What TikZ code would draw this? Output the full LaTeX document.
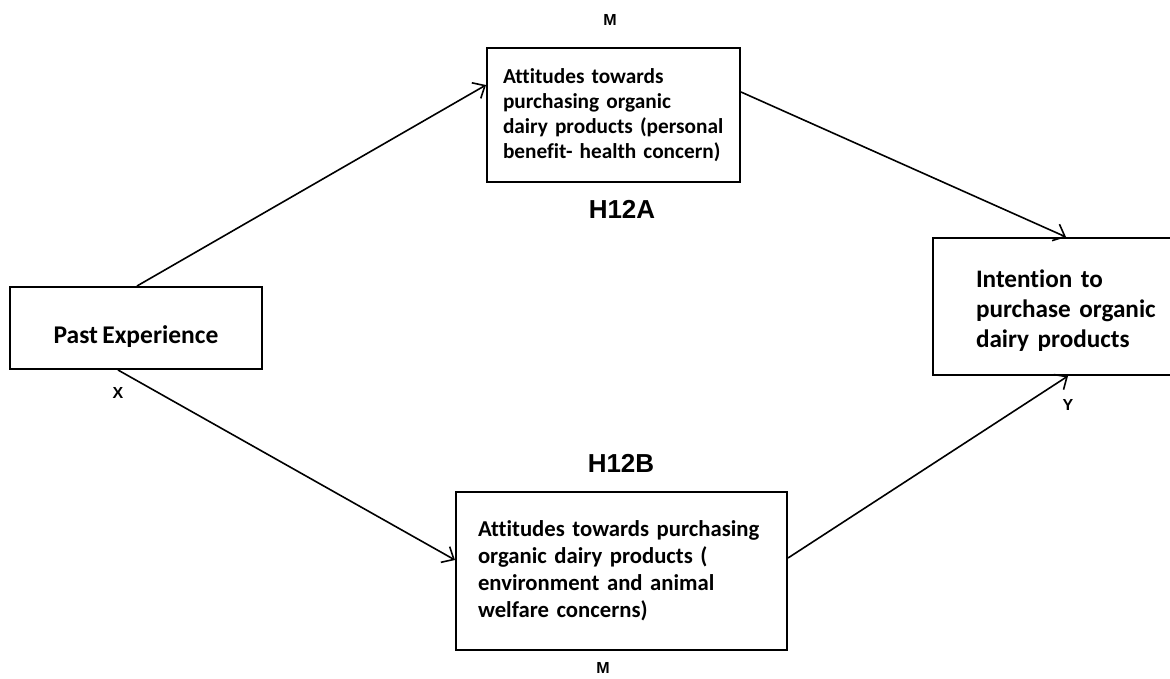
\documentclass[tikz,border=0pt]{standalone}
\usepackage{fontspec}
\setmainfont{Carlito}[Ligatures=NoCommon, WordSpace=0.75]
\newfontfamily\labelfont{Liberation Sans}
\usepackage{tikz}
\usetikzlibrary{calc, positioning, arrows.meta}
\hyphenpenalty=10000
\exhyphenpenalty=10000

\tikzset{
    box/.style={draw, line width=2pt, rectangle, align=left, font=\bfseries},
    link/.style={line width=1.6pt, -{Straight Barb[length=10pt,width=18pt,line width=1.6pt]}},
    lbl/.style={font=\labelfont\bfseries\fontsize{16}{18}\selectfont},
    hyp/.style={font=\labelfont\bfseries\fontsize{26}{30}\selectfont}
}

\begin{document}
\begin{tikzpicture}[x=1pt, y=-1pt]
            \useasboundingbox (0,0) rectangle (1170,678);

            % construct boxes
            \node[box, minimum width=252pt, minimum height=82pt, align=center,
                  font=\bfseries\fontsize{25.5}{30}\selectfont] (past) at (136,328) {\rule{0pt}{35pt}Past Experience};
            \node[box, text width=221pt, inner xsep=16pt, minimum height=134pt,
                  font=\bfseries\fontsize{21.3}{25}\selectfont] (att1) at (613.5,115)
                  {Attitudes towards\\purchasing organic\\dairy products (personal\\benefit- health concern)};
            \node[box, text width=200pt, inner xsep=43pt, minimum height=137pt,
                  font=\bfseries\fontsize{25.2}{30}\selectfont, anchor=west] (intent) at (932,306.5)
                  {\rule{0pt}{25pt}Intention to\\purchase organic\\dairy products};
            \node[box, text width=287pt, inner xsep=22pt, minimum height=158pt,
                  font=\bfseries\fontsize{22.7}{27}\selectfont] (att2) at (621.5,571)
                  {Attitudes towards purchasing\\organic dairy products (\\environment and animal\\welfare concerns)};

            % variable labels
            \node[lbl] (mtop) at (610,20) {M};
            \node[lbl] (mbot) at (603,668) {M};
            \node[lbl] (xlbl) at (118,393) {X};
            \node[lbl] (ylbl) at (1068,405) {Y};
            \node[hyp] (ha) at (622,209) {H12A};
            \node[hyp] (hb) at (621,463) {H12B};

            % paths
            \draw[link] ([xshift=1pt]past.north) -- ([yshift=30pt]att1.west);
            \draw[link] ([yshift=23pt]att1.east) -- ([xshift=-10pt]intent.north);
            \draw[link] ([xshift=-18pt]past.south) -- ([yshift=11pt]att2.west);
            \draw[link] ([yshift=13pt]att2.east) -- ([xshift=-8pt]intent.south);

        \end{tikzpicture}
\end{document}
